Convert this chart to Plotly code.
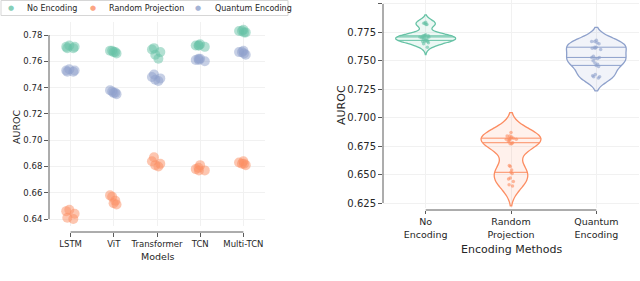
import numpy as np
import plotly.graph_objects as go

# ---------------- data ----------------
models = ["LSTM", "ViT", "Transformer", "TCN", "Multi-TCN"]
methods = ["No Encoding", "Random Projection", "Quantum Encoding"]
method_ticktext = ["No<br>Encoding", "Random<br>Projection", "Quantum<br>Encoding"]
colors = ["#66c2a5", "#fc8d62", "#8da0cb"]

# AUROC per model (5 runs each)
no_encoding = [
    [0.770, 0.771, 0.772, 0.771, 0.770],   # LSTM
    [0.768, 0.767, 0.767, 0.766, 0.768],   # ViT
    [0.770, 0.769, 0.767, 0.765, 0.762],   # Transformer
    [0.773, 0.772, 0.772, 0.771, 0.772],   # TCN
    [0.784, 0.783, 0.782, 0.783, 0.782],   # Multi-TCN
]
random_projection = [
    [0.647, 0.646, 0.644, 0.641, 0.640],
    [0.658, 0.657, 0.654, 0.652, 0.651],
    [0.687, 0.684, 0.682, 0.680, 0.681],
    [0.681, 0.679, 0.678, 0.677, 0.677],
    [0.684, 0.683, 0.682, 0.682, 0.681],
]
quantum_encoding = [
    [0.753, 0.754, 0.752, 0.753, 0.752],
    [0.738, 0.737, 0.736, 0.735, 0.736],
    [0.750, 0.748, 0.747, 0.746, 0.745],
    [0.761, 0.762, 0.762, 0.760, 0.761],
    [0.768, 0.767, 0.766, 0.767, 0.765],
]

left_yticks = [0.64, 0.66, 0.68, 0.70, 0.72, 0.74, 0.76, 0.78]
right_yticks = [0.625, 0.650, 0.675, 0.700, 0.725, 0.750, 0.775, 0.800]

series = [no_encoding, random_projection, quantum_encoding]

W, H = 640, 281


def rgba(hex_color, a):
    h = hex_color.lstrip("#")
    r, g, b = int(h[0:2], 16), int(h[2:4], 16), int(h[4:6], 16)
    return f"rgba({r},{g},{b},{a})"


def px(x):
    return x / W


def py(y):
    return 1 - y / H


FONT = "DejaVu Sans"
TXT = "#262626"
SPINE = "#5a5a5a"
GRID = "#f1f1f1"

fig = go.Figure()

# ---------------- left: strip plot ----------------
for name, col, vals in zip(methods, colors, series):
    xs = [m for m, v in zip(models, vals) for _ in v]
    ys = [y for v in vals for y in v]
    fig.add_trace(go.Box(
        x=xs, y=ys, name=name, boxpoints="all", jitter=0.8, pointpos=0, width=0.3,
        fillcolor="rgba(0,0,0,0)", line=dict(color="rgba(0,0,0,0)", width=0),
        marker=dict(color=col, size=10, opacity=0.5),
        showlegend=False, hoverinfo="skip", xaxis="x", yaxis="y",
    ))

# ---------------- right: violins ----------------
for i, (name, col, vals) in enumerate(zip(methods, colors, series)):
    v = np.array([y for vv in vals for y in vv])
    bw = v.std(ddof=1) * len(v) ** (-1 / 5)
    fig.add_trace(go.Violin(
        x=[i] * len(v), y=v, width=0.7, bandwidth=bw, spanmode="soft",
        scalemode="width", points="all", jitter=0.2, pointpos=0,
        line=dict(color=col, width=1.3), fillcolor=rgba(col, 0.12),
        marker=dict(color=col, size=3.5, opacity=0.6),
        box_visible=False, meanline_visible=False, showlegend=False,
        hoverinfo="skip", xaxis="x2", yaxis="y2", name=name,
    ))
    grid = np.linspace(v.min() - 2 * bw, v.max() + 2 * bw, 600)
    dens = np.exp(-0.5 * ((grid[:, None] - v[None, :]) / bw) ** 2).sum(1)
    maxd = dens.max()
    for q in np.percentile(v, [25, 50, 75]):
        d = np.exp(-0.5 * ((q - v) / bw) ** 2).sum()
        hw = 0.35 * d / maxd
        fig.add_trace(go.Scatter(
            x=[i - hw, i + hw], y=[q, q], mode="lines",
            line=dict(color=col, width=1), showlegend=False, hoverinfo="skip",
            xaxis="x2", yaxis="y2",
        ))

# ---------------- layout ----------------
L_XPOS = py(232)
R_XPOS = py(210)
common = dict(ticks="outside", tickwidth=1, tickcolor=SPINE,
              showgrid=True, gridcolor=GRID, gridwidth=1, zeroline=False,
              showline=False)

fig.update_layout(
    width=W, height=H, margin=dict(l=0, r=0, t=0, b=0),
    paper_bgcolor="white", plot_bgcolor="white",
    font=dict(family=FONT, color=TXT),
    boxmode="overlay", violinmode="overlay", showlegend=False,
    xaxis=dict(domain=[px(49), px(265)], type="category", range=[-0.5, 4.5],
               categoryorder="array", categoryarray=models, ticklen=4,
               anchor="free", position=L_XPOS, tickfont=dict(size=8.5), **common),
    yaxis=dict(domain=[py(226), py(22)], range=[0.6347, 0.7899], anchor="x", ticklen=4,
               tickvals=left_yticks, tickformat=".2f", tickfont=dict(size=8.5), **common),
    xaxis2=dict(domain=[px(383), px(639)], range=[-0.5, 2.5], anchor="free", position=R_XPOS,
                tickvals=list(range(len(methods))), ticktext=method_ticktext, ticklen=3,
                tickfont=dict(size=9.5), **common),
    yaxis2=dict(domain=[py(208), 1.0], range=[0.6206, 0.8035], anchor="x2", ticklen=4,
                tickvals=right_yticks, tickformat=".3f", tickfont=dict(size=10), **common),
)

spine = dict(color=SPINE, width=1)
# trimmed spines (left)
fig.add_shape(type="line", xref="x domain", yref="y", x0=0, x1=0,
              y0=left_yticks[0], y1=left_yticks[-1], line=spine)
fig.add_shape(type="line", xref="x", yref="paper", x0=0, x1=len(models) - 1,
              y0=L_XPOS, y1=L_XPOS, line=spine)
# trimmed spines (right)
fig.add_shape(type="line", xref="x2 domain", yref="y2", x0=0, x1=0,
              y0=right_yticks[0], y1=right_yticks[-1], line=spine)
fig.add_shape(type="line", xref="x2", yref="paper", x0=0, x1=len(methods) - 1,
              y0=R_XPOS, y1=R_XPOS, line=spine)

# axis titles
ann = dict(xref="paper", yref="paper", showarrow=False, xanchor="center", yanchor="middle")
fig.add_annotation(text="AUROC", x=px(16), y=py(127), textangle=-90,
                   font=dict(size=9.5), **ann)
fig.add_annotation(text="Models", x=px(157.5), y=py(256),
                   font=dict(size=9.5), **ann)
fig.add_annotation(text="AUROC", x=px(341), y=py(105), textangle=-90,
                   font=dict(size=11), **ann)
fig.add_annotation(text="Encoding Methods", x=px(511), y=py(249),
                   font=dict(size=11), **ann)

# legend (drawn as a framed row of symbol + label)
fig.add_shape(type="rect", xref="paper", yref="paper", x0=px(1), x1=px(288),
              y0=py(15.5), y1=py(0.5), line=dict(color="#d6d6d6", width=1),
              fillcolor="white", layer="above")
leg_marker_x = [11, 93, 198]
leg_text_x = [25, 107, 213]
for name, col, mx, tx in zip(methods, colors, leg_marker_x, leg_text_x):
    fig.add_annotation(text="●", x=px(mx), y=py(8.5), font=dict(size=7, color=rgba(col, 0.8)),
                       **ann)
    fig.add_annotation(text=name, x=px(tx), y=py(8), xref="paper", yref="paper",
                       showarrow=False, xanchor="left", yanchor="middle",
                       font=dict(size=8, color=TXT))

fig.write_html("out.html", config={"displayModeBar": False},
               post_script="document.body.style.margin='0';document.body.style.overflow='hidden';")
